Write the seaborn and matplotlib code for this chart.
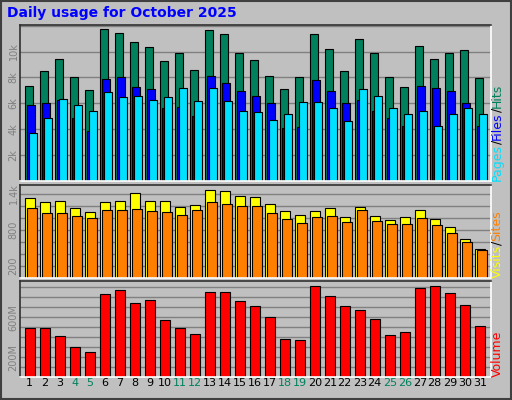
import numpy as np
import matplotlib
matplotlib.use('Agg')
import matplotlib.pyplot as plt
import seaborn as sns

days = list(range(1, 32))
weekend = {4, 5, 11, 12, 18, 19, 25, 26}

hits = [7.3, 8.46, 9.46, 8.0, 7.0, 11.77, 11.46, 10.7, 10.38, 9.3, 9.92, 8.6, 11.7, 11.38, 9.85, 9.38,
        8.08, 7.08, 8.0, 11.38, 10.23, 8.46, 11.0, 9.92, 8.0, 7.23, 10.46, 9.46, 9.92, 10.15, 7.92]
files = [5.85, 6.0, 6.23, 4.85, 3.85, 7.85, 8.0, 7.23, 7.08, 5.62, 5.69, 5.0, 8.08, 7.54, 6.99, 6.6,
         6.0, 4.08, 4.15, 7.77, 6.99, 6.0, 6.23, 5.38, 4.85, 4.23, 7.31, 7.15, 6.92, 6.0, 4.23]
pages = [3.69, 4.85, 6.31, 5.85, 5.38, 6.85, 6.46, 6.54, 6.23, 6.46, 7.15, 6.15, 7.15, 6.15, 5.38, 5.31,
         4.69, 5.15, 6.08, 6.08, 5.62, 4.62, 7.08, 6.54, 5.62, 5.15, 5.38, 4.23, 5.15, 5.62, 5.15]
visits = [1333, 1267, 1283, 1167, 1100, 1267, 1283, 1417, 1283, 1283, 1183, 1217, 1467, 1450, 1367, 1350,
          1233, 1117, 1050, 1117, 1167, 1017, 1183, 1033, 967, 1017, 1133, 983, 850, 650, 483]
sites = [1167, 1083, 1083, 1033, 1000, 1133, 1133, 1150, 1117, 1100, 1050, 1133, 1267, 1233, 1200, 1200,
         1083, 983, 917, 1017, 1033, 933, 1133, 950, 900, 900, 1000, 883, 750, 600, 467]
volume = [490, 490, 409, 297, 247, 834, 875, 743, 774, 571, 490, 429, 855, 855, 764, 713,
          601, 378, 368, 916, 814, 713, 672, 581, 419, 449, 895, 916, 845, 723, 510]

BG = '#c0c0c0'
sns.set_theme(style='white', rc={'axes.facecolor': BG, 'figure.facecolor': BG})
plt.rcParams['font.family'] = ['DejaVu Sans']

W, H = 512, 400
fig = plt.figure(figsize=(W / 100, H / 100), dpi=100)
x = np.arange(31)


def make_ax(top, bottom):
    ax = fig.add_axes([20 / W, 1 - bottom / H, 471 / W, (bottom - top) / H])
    ax.set_xlim(-0.35, 31.05)
    for s in ['left', 'top']:
        ax.spines[s].set_color('#303030')
    for s in ['right', 'bottom']:
        ax.spines[s].set_color('white')
    for s in ax.spines.values():
        s.set_linewidth(1.2)
    ax.set_xticks([])
    ax.tick_params(axis='y', length=0, labelsize=7, labelcolor='#808080', pad=1)
    for lab in ax.get_yticklabels():
        lab.set_rotation(90)
    ax.set_axisbelow(True)
    return ax


def bars(ax, off, vals, w, color):
    ax.bar(x + off, vals, width=w, align='edge', color=color, edgecolor='black', linewidth=0.8)


def side_label(ax, pieces):
    fig.canvas.draw()
    r = fig.canvas.get_renderer()
    bb = ax.get_position()
    y = bb.y0
    for txt, col in pieces:
        t = fig.text(497 / W, y, txt, rotation=90, color=col, fontsize=9, va='bottom', ha='center')
        e = t.get_window_extent(renderer=r)
        y += e.height / H


# top panel
ax1 = make_ax(25, 181)
ax1.set_ylim(0, 12.05)
ax1.set_yticks([2, 4, 6, 8, 10, 12])
ax1.set_yticklabels(['2k', '4k', '6k', '8k', '10k', ''], va='center')
ax1.yaxis.grid(True, color='#808080', linewidth=1)
bars(ax1, 0.0, hits, 0.49, '#00805c')
bars(ax1, 0.13, files, 0.49, '#0000ff')
bars(ax1, 0.23, pages, 0.53, '#00e0ff')

# middle panel
ax2 = make_ax(185, 278)
ax2.set_ylim(0, 1545)
ax2.set_yticks(np.arange(200, 1600, 200))
ax2.set_yticklabels(['200', '', '', '800', '', '', '1.4k'], va='center')
ax2.yaxis.grid(True, color='#808080', linewidth=1)
bars(ax2, 0.0, visits, 0.67, '#ffff00')
bars(ax2, 0.13, sites, 0.63, '#ff8000')

# bottom panel
ax3 = make_ax(281, 377)
ax3.set_ylim(0, 963)
ax3.set_yticks(np.arange(100, 1000, 100))
ax3.set_yticklabels(['', '200M', '', '', '', '600M', '', '', ''], va='center')
ax3.yaxis.grid(True, color='#808080', linewidth=1)
bars(ax3, 0.0, volume, 0.63, '#ff0000')

for i, d in enumerate(days):
    ax3.text(i + 0.3, -12, str(d), ha='center', va='top', fontsize=8,
             color='#00805c' if d in weekend else 'black', transform=ax3.transData, clip_on=False)

fig.text(7 / W, 1 - 13 / H, 'Daily usage for October 2025', color='#0000ff', fontsize=10,
         fontweight='bold', va='center', ha='left')

side_label(ax1, [('Pages', '#00e0ff'), ('/', 'black'), ('Files', '#0000ff'), ('/', 'black'), ('Hits', '#00805c')])
side_label(ax2, [('Visits', '#ffff00'), ('/', 'black'), ('Sites', '#ff8000')])
side_label(ax3, [('Volume', '#ff0000')])

# outer bevel border
fig.add_artist(plt.Rectangle((0.002, 0.002), 0.996, 0.996, transform=fig.transFigure,
                             fill=False, edgecolor='#404040', linewidth=1.5))

fig.savefig('out.png', dpi=100, facecolor=BG)
